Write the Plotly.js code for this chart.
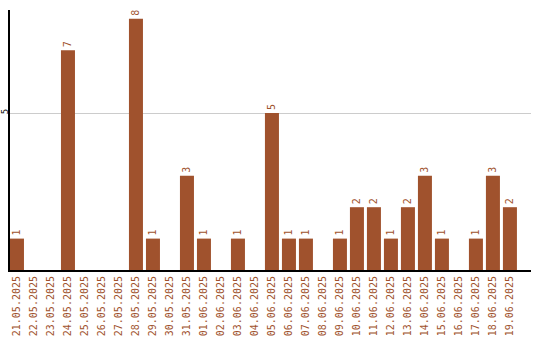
<!DOCTYPE html>
<html><head><meta charset="utf-8">
<script src="https://cdn.plot.ly/plotly-3.0.1.min.js"></script>
<style>html,body{margin:0;padding:0;background:#fff}#c{width:540px;height:340px}</style>
</head><body><div id="c"></div>
<script>
const dates = ["21.05.2025","22.05.2025","23.05.2025","24.05.2025","25.05.2025","26.05.2025","27.05.2025","28.05.2025","29.05.2025","30.05.2025","31.05.2025","01.06.2025","02.06.2025","03.06.2025","04.06.2025","05.06.2025","06.06.2025","07.06.2025","08.06.2025","09.06.2025","10.06.2025","11.06.2025","12.06.2025","13.06.2025","14.06.2025","15.06.2025","16.06.2025","17.06.2025","18.06.2025","19.06.2025"];
const counts = [1,0,0,7,0,0,0,8,1,0,3,1,0,1,0,5,1,1,0,1,2,2,1,2,3,1,0,1,3,2];
const yTicks = [5];
const brown = '#A0522D';
const labels = counts.map(v => v > 0 ? String(v) : '');
Plotly.newPlot('c', [{
  type: 'bar', x: dates, y: counts, text: labels,
  textposition: 'outside', textangle: -90, cliponaxis: false, constraintext: 'none',
  textfont: {family: 'DejaVu Sans Mono', size: 10, color: brown},
  marker: {color: brown}, hoverinfo: 'none'
}], {
  width: 540, height: 340, margin: {l: 10, r: 9, t: 10, b: 70},
  paper_bgcolor: '#fff', plot_bgcolor: '#fff', bargap: 0.176, showlegend: false,
  font: {family: 'DejaVu Sans Mono', size: 10},
  xaxis: {type: 'category', range: [-0.41, 30.24], showline: true, linecolor: '#000', linewidth: 2,
    ticks: '', tickangle: -90, tickfont: {color: brown, size: 10, family: 'DejaVu Sans Mono'}, showgrid: false, zeroline: false},
  yaxis: {range: [0, 8.28], tickvals: yTicks, ticktext: yTicks.map(String), showline: true, linecolor: '#000', linewidth: 2,
    ticks: '', tickangle: -90, ticklen: 0, ticklabelstandoff: -4, tickfont: {color: '#000', size: 9, family: 'DejaVu Sans Mono'},
    showgrid: true, gridcolor: '#cccccc', zeroline: false}
}, {staticPlot: true, displayModeBar: false});
</script></body></html>
